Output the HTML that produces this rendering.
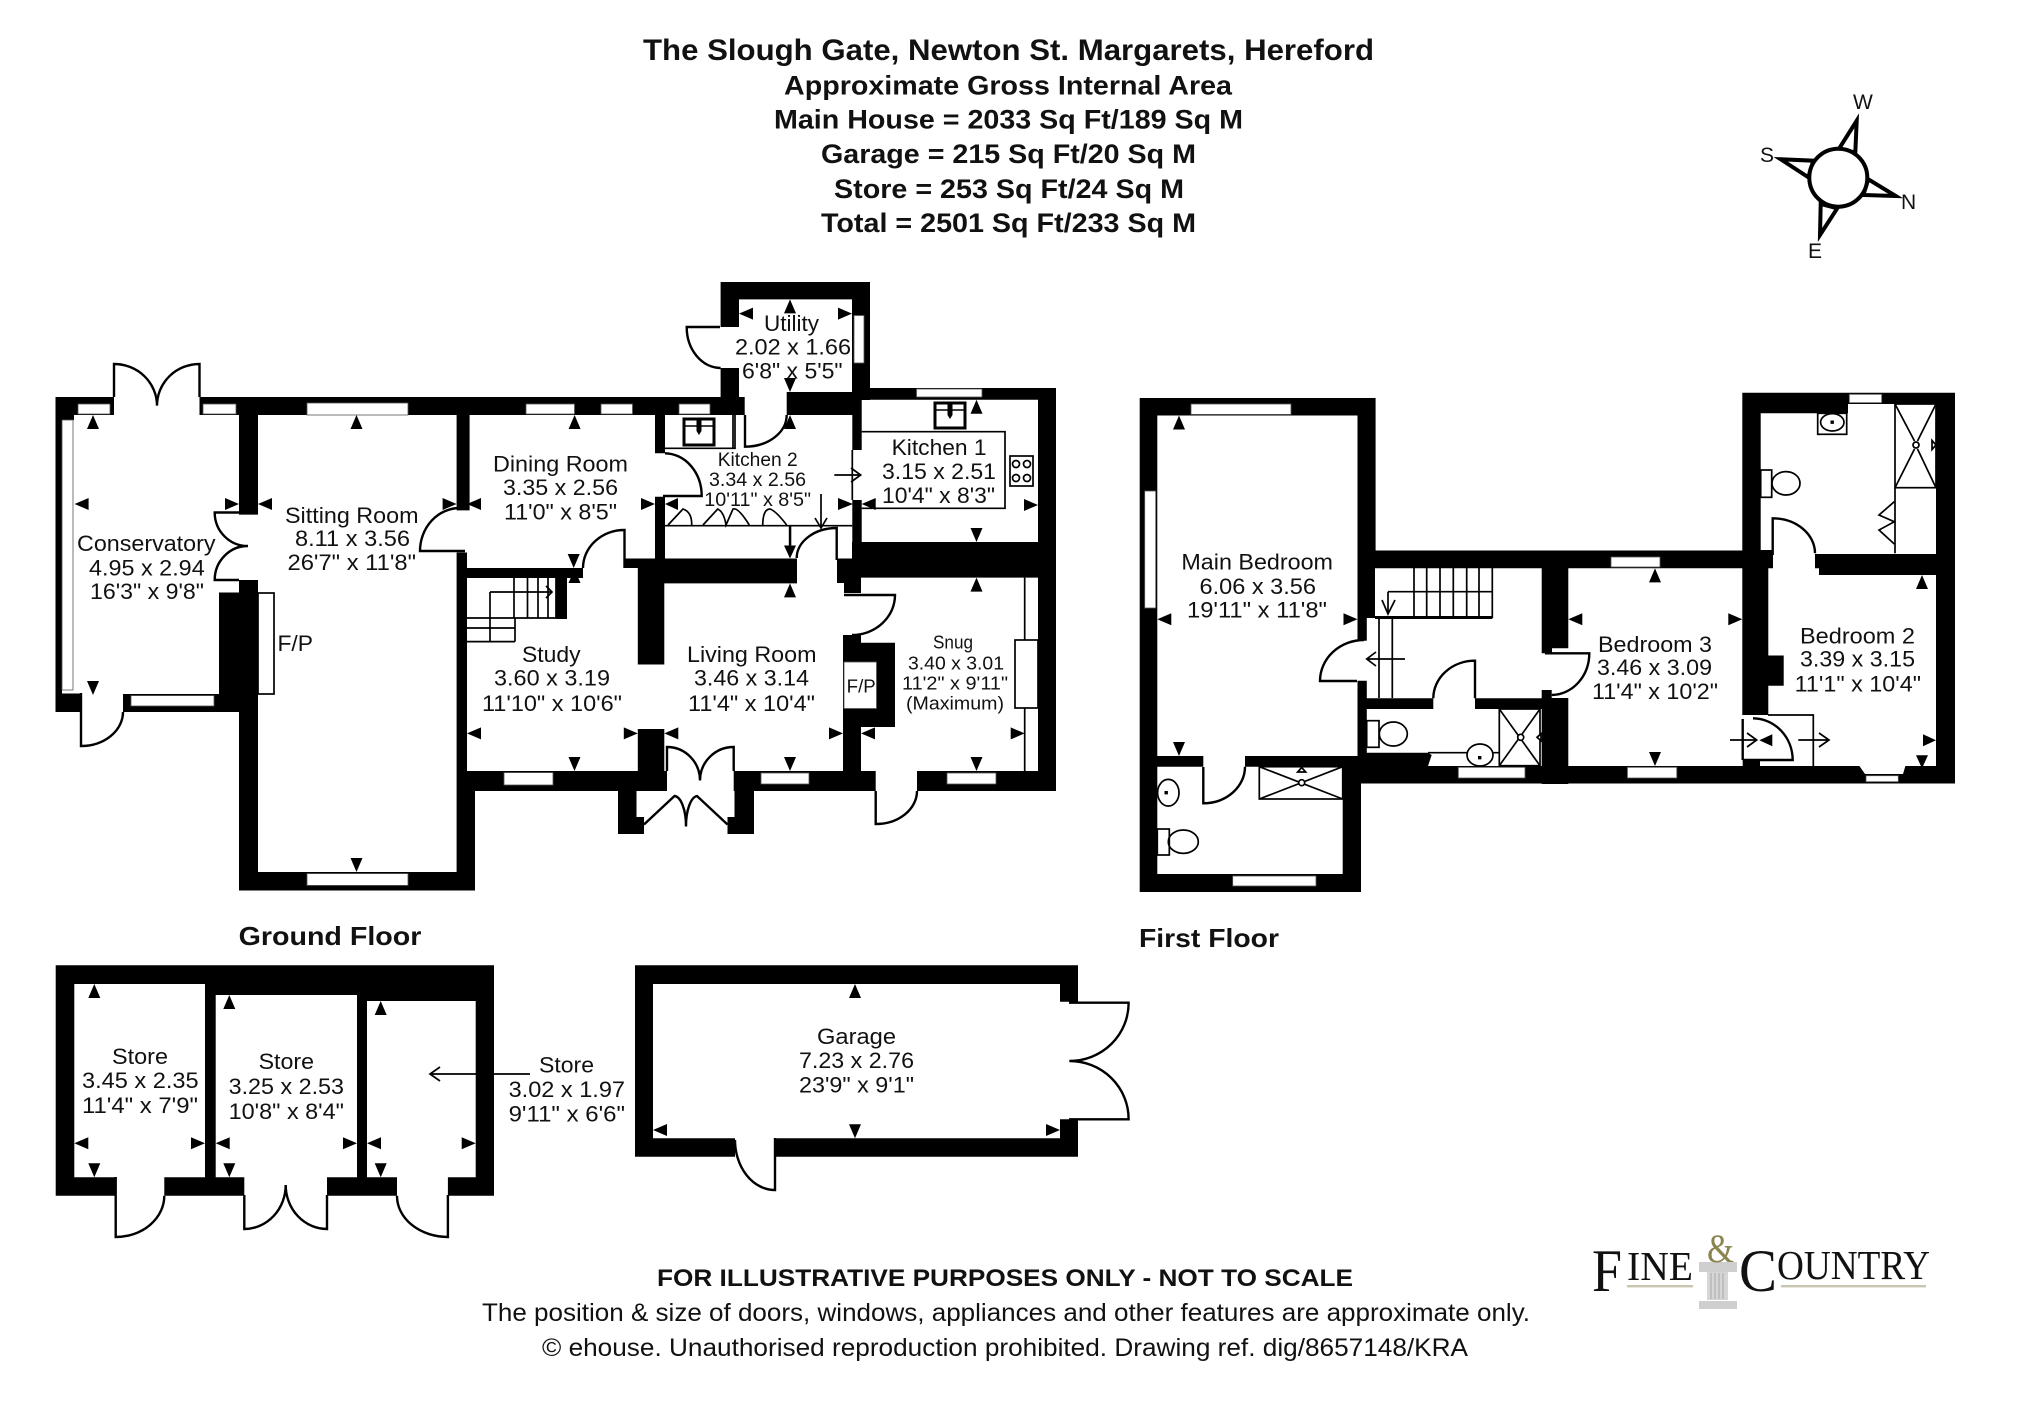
<!DOCTYPE html>
<html><head><meta charset="utf-8"><title>The Slough Gate floor plan</title>
<style>
html,body{margin:0;padding:0;background:#fff}
svg{display:block}
text{font-family:"Liberation Sans",sans-serif;fill:#111}
.b{font-weight:bold}
.t{font-size:22.5px}
.s{font-size:18px}
.k{font-size:19.5px}
.l{fill:none;stroke:#000;stroke-width:2.4}
.n{fill:none;stroke:#000;stroke-width:1.7}
.w{fill:#fff;stroke:#555;stroke-width:.8}
.f{font-family:"Liberation Serif",serif}
</style></head><body>
<svg width="2025" height="1422" viewBox="0 0 2025 1422" xmlns="http://www.w3.org/2000/svg">
<rect width="2025" height="1422" fill="#fff"/>

<!-- title -->
<text class="b" x="643" y="60" font-size="29.5" textLength="731" lengthAdjust="spacingAndGlyphs">The Slough Gate, Newton St. Margarets, Hereford</text>
<text class="b" x="784" y="94.3" font-size="27" textLength="448" lengthAdjust="spacingAndGlyphs">Approximate Gross Internal Area</text>
<text class="b" x="774" y="128.3" font-size="27" textLength="469" lengthAdjust="spacingAndGlyphs">Main House = 2033 Sq Ft/189 Sq M</text>
<text class="b" x="821" y="163" font-size="27" textLength="375" lengthAdjust="spacingAndGlyphs">Garage = 215 Sq Ft/20 Sq M</text>
<text class="b" x="834" y="198" font-size="27" textLength="350" lengthAdjust="spacingAndGlyphs">Store = 253 Sq Ft/24 Sq M</text>
<text class="b" x="821" y="232" font-size="27" textLength="375" lengthAdjust="spacingAndGlyphs">Total = 2501 Sq Ft/233 Sq M</text>

<!-- compass -->
<g fill="#fff" stroke="#000" stroke-width="4" stroke-linejoin="miter">
<path d="M1856.7 120.7L1839.3 148.3L1855.3 152.7z"/>
<path d="M1780.7 159.3L1813.3 160.7L1808.3 177.3z"/>
<path d="M1895.7 196L1868.3 179.3L1863.3 195z"/>
<path d="M1820 235L1820.7 204L1837.3 208.3z"/>
<circle cx="1838.3" cy="177.7" r="29"/>
</g>
<text x="1853" y="109" font-size="21">W</text>
<text x="1760" y="162" font-size="21">S</text>
<text x="1901" y="209" font-size="21">N</text>
<text x="1808" y="258" font-size="21">E</text>

<!-- walls -->
<path fill="#000" d="
M55.5 397H114V415H55.5z M199.5 397H744.7V415H199.5z M55.5 397H62V712H55.5z M55.5 397H74V420H55.5z
M55.5 693.5H81V712H55.5z M123 694H239V712H123z M219 592.5H258V712H219z
M239 397H258V514.6H239z M239 580H258V890.5H239z M239 872H475V890.5H239z M456.6 790H475V890.5H456.6z
M456.6 552.5H467V790H456.6z M456.6 397H469.6V510.4H456.6z M467 568H583V578H467z
M624.5 558.5H638V568H624.5z M637.8 558.5H797V583.4H637.8z M637.8 558.5H664.3V664.5H637.8z
M655 415H665V453.3H655z M655 496.7H665V558.5H655z M556.5 568H567V619H556.5z
M637.8 729H664.3V791H637.8z M456.6 771H667V791H456.6z
M618 791H636.5V834H618z M618 817H644V834H618z M734.5 791H754V834H734.5z M727.5 817H754V834H727.5z
M733.7 771H875.7V791H733.7z M917 771H1056V791H917z
M843 635H861V771H843z M843 642.7H895V727H843z M837 558.5H861V583H837z M844 583H861V593H844z
M852 542H1056V577.6H852z M852 388H1056V399.7H852z M1038 388H1056V791H1038z
M720.6 282H870V299.4H720.6z M720.6 282H739V327H720.6z M720.6 368H739V415H720.6z M852 282H870V400H852z
M786.7 392H861.7V415H786.7z M852.3 415H861.7V450H852.3z M852.3 500H861.7V558H852.3z

M1139.7 398H1375.6V415.5H1139.7z M1139.7 398H1157.3V892H1139.7z M1357.5 398H1375.6V568H1357.5z
M1357.5 550H1375V618H1357.5z M1357.5 618H1366.8V640.7H1357.5z M1357.5 680.7H1366.8V766H1357.5z
M1157 756H1203.3V766.7H1157z M1245 756H1361V766.7H1245z
M1342.7 766H1361V892H1342.7z M1139.7 874H1361V892H1139.7z
M1375 550.5H1760V568.3H1375z M1541.7 568H1568.3V648.3H1541.7z M1541.7 648H1552V653.3H1541.7z M1541.7 690H1551.7V784H1541.7z M1551.7 698H1568.3V784H1551.7z
M1366.8 698.3H1433.3V709H1366.8z M1475 698.3H1541.7V709H1475z
M1361 766H1955V783.5H1361z M1361 752.7H1428L1431.7 755L1428 766H1361z
M1742.3 392.7H1848V413.3H1742.3z M1848 392.7H1955V404H1848z M1742.3 392.7H1760.7V568H1742.3z M1742.3 550H1773V568.3H1742.3z
M1742.3 560H1768.3V715H1742.3z M1742.7 760H1760V770H1742.7z M1768 655.5H1783.7V685.8H1768z
M1936 392.7H1955V783.5H1936z M1815 554H1937V568.3H1815z M1819 554H1937V575H1819z

M55.7 965.3H494V984H55.7z M55.7 965.3H74.3V1195.7H55.7z M475.7 965.3H494V1195.7H475.7z
M205 965.3H215.7V1195.7H205z M357 965.3H367V1195.7H357z M205 984H494V995H205z M357 995H494V1001H357z
M55.7 1177.3H115.7V1195.7H55.7z M164.3 1177.3H244.3V1195.7H164.3z M327 1177.3H397V1195.7H327z M447.9 1177.3H494V1195.7H447.9z
M635 965.3H1078V984H635z M635 965.3H653V1156.7H635z M635 1138.3H735V1156.7H635z M775 1138.3H1078V1156.7H775z
M1060 984H1078V1001.7H1060z M1060 1119.3H1078V1156.7H1060z
"/>

<!-- bay notch -->
<path fill="#fff" d="M1858 764H1906L1903 774H1865z"/>

<!-- windows -->
<g class="w">
<rect x="62" y="420" width="11" height="270"/>
<rect x="78" y="404" width="32" height="10"/><rect x="203" y="404" width="33" height="10"/>
<rect x="131" y="695.6" width="83" height="10.4"/>
<rect x="307" y="403" width="101" height="12"/><rect x="307" y="873.6" width="101" height="11.8"/>
<rect x="526" y="404" width="48.5" height="10"/><rect x="601" y="404" width="31.5" height="10"/><rect x="679" y="404" width="31" height="10"/>
<rect x="504" y="772.6" width="49" height="12.4"/><rect x="761" y="773" width="48" height="11"/><rect x="947" y="773" width="49" height="11"/>
<rect x="916.5" y="389" width="65.5" height="8"/><rect x="854" y="315.5" width="10" height="47.5"/>
<rect x="1191" y="404" width="100" height="10.4"/><rect x="1144.7" y="491" width="11" height="117"/>
<rect x="1611" y="557" width="49" height="10"/><rect x="1458.3" y="767.3" width="66.7" height="10.7"/><rect x="1627.4" y="767.3" width="49.4" height="10.7"/>
<rect x="1866" y="775.7" width="32.3" height="6"/><rect x="1849.3" y="394.3" width="32.4" height="8.4"/>
<rect x="1232.7" y="876" width="83.3" height="10"/>
</g>

<!-- F/P -->
<rect x="258" y="593" width="16" height="101" class="n"/>
<rect x="844" y="662" width="32.5" height="46.5" fill="#fff" stroke="#555" stroke-width=".8"/>
<rect x="1015" y="640" width="23" height="68" class="n"/>
<path class="n" d="M1024.7 577.6V640M1024.7 708V771"/>

<!-- thin fittings ground -->
<g class="n">
<path d="M665 448.3H735V415M733 415V448"/>
<path d="M861.7 431.7H1005V508.3H861.7M852.3 450V500"/>
<path d="M665 525.7H852.3"/>
<path d="M668 525L683 509Q692 512 691.7 525M703 525L717.7 509Q724 512 726 525L733 509Q738 507 749.3 525M762.7 525Q763 509 770 509Q776 511 786.7 525"/>
<path d="M514 569V618M527.5 569V618M538 569V618M548 569V618M556 569V618M515 618H557M515 618V641.6M467 618H515M467 628H515M467 641.6H515M490 592V641.6M490 592H552"/>
<path d="M546 586L552 592L546 598M834.3 475H860.7M851 468L860.7 475L851 482M821 494V528M815 518L821 528L827 518"/>
<path d="M1414 568V617M1426.7 568V617M1440 568V617M1453.3 568V617M1466.7 568V617M1479 568V617M1492.3 568V618M1388 591.7H1492.3M1388 591.7V614M1382 600L1388 614L1395 600M1379 619V698M1392.3 619V698M1366.7 659H1405M1376 652L1366.7 659L1376 666"/>
<path d="M1768 715H1813.3V768.3M1730 740H1756.7M1747 733L1756.7 740L1747 747M1798.3 740H1829M1819 733L1829 740L1819 747"/>
<path d="M530 1074H430M440 1067L430 1074L440 1081"/>
</g>
<rect x="788.8" y="525" width="2.5" height="24" fill="#000"/>
<rect x="1375" y="616" width="117.3" height="3" fill="#000"/>

<!-- sinks, hobs -->
<g fill="#fff" stroke="#000" stroke-width="3">
<rect x="684" y="419" width="30" height="26"/><rect x="935" y="403" width="30" height="25"/>
</g>
<g fill="none" stroke="#000" stroke-width="1.5"><path d="M684 426H714M935 410H965"/></g>
<path fill="#000" d="M696.5 420h5v11l-2.5 4-2.5-4zM947.5 404h5v11l-2.5 4-2.5-4z"/>
<g class="n" stroke-width="1.5">
<rect x="1010" y="456" width="23" height="30"/><circle cx="1016" cy="464" r="3.5"/><circle cx="1027" cy="464" r="3.5"/><circle cx="1016" cy="478" r="3.5"/><circle cx="1027" cy="478" r="3.5"/>
</g>

<!-- first floor fittings -->
<g class="n">
<rect x="1895" y="404" width="41" height="83.7"/><path d="M1895 404L1914.5 441M1917.5 449L1936 487.7M1936 404L1917.5 441M1914.5 449L1895 487.7M1895 487.7V553.3"/>
<circle cx="1916" cy="445" r="3"/><path d="M1936 445l-4-4.5v9z"/>
<rect x="1817.7" y="413.3" width="29" height="21"/><ellipse cx="1832.3" cy="422.3" rx="11.7" ry="8.7"/>
<rect x="1760.7" y="470" width="11" height="27.3"/><ellipse cx="1786" cy="483.3" rx="14" ry="11.7"/>
<path d="M1894.3 501.7L1879 515L1894.3 521.7L1879 530L1894.3 544"/>
<rect x="1499.3" y="709" width="40.7" height="56.7"/><path d="M1499.3 709L1540 765.7M1540 709L1499.3 765.7"/>
<circle cx="1520.7" cy="737.3" r="3" fill="#fff"/><path d="M1537 737.3l4-3.5v7z" fill="#fff"/>
<rect x="1366.7" y="720.7" width="12.3" height="26.6"/><ellipse cx="1393.3" cy="734" rx="14" ry="12" fill="#fff"/>
<path d="M1428 752.7H1499"/><ellipse cx="1480" cy="755" rx="13" ry="11" fill="#fff"/>
<rect x="1259.3" y="766.7" width="83.4" height="32.3"/><path d="M1259.3 766.7L1342.7 799M1342.7 766.7L1259.3 799"/>
<circle cx="1301.7" cy="782.7" r="3" fill="#fff"/><path d="M1301.7 767.5l-4 4.5h8z"/>
<ellipse cx="1168.3" cy="792.7" rx="10.7" ry="13.3"/>
<rect x="1157.3" y="829" width="12" height="26"/><ellipse cx="1183.3" cy="841.7" rx="15" ry="11.7"/>
</g>
<path fill="#000" d="M1830.5 420.5h3.4v3.4h-3.4zM1478 756h3.4v3.4h-3.4zM1164.5 791h3.4v3.4h-3.4z"/>

<!-- doors -->
<g class="l">
<path d="M81 693V746A42 34 0 0 0 123 712"/>
<path d="M114 397V364A43 41.6 0 0 1 157 405.6M199.5 397V364A42.5 41.6 0 0 0 157 405.6"/>
<path d="M239 512.5H214.7A33 33.5 0 0 0 248 546M239 580H214.7A33 34 0 0 1 248 546"/>
<path d="M465 551H420A40 43 0 0 1 460 508"/>
<path d="M624.5 568V530A41.5 38 0 0 0 583 568"/>
<path d="M663 496H701.7A37 42.7 0 0 0 665 453.3"/>
<path d="M745 415V446.7A41.7 31.7 0 0 0 786.7 415"/>
<path d="M720 327H686.7A34 41 0 0 0 720.6 368"/>
<path d="M836.7 560V528A40 30 0 0 0 796.7 558"/>
<path d="M844 595H895A43 40 0 0 1 852 635"/>
<path d="M875.7 791V824A41 33 0 0 0 917 791"/>
<path d="M667 771V747A33 33.5 0 0 1 700 780.5M733.7 771V747A33.7 33.5 0 0 0 700 780.5"/>
<path d="M644 824.5L674.5 796A12 30 0 0 1 686 826.5M727.5 824.5L697 796A12 30 0 0 0 686 826.5"/>
<path d="M1357 681H1320A44 41 0 0 1 1364 640"/>
<path d="M1545 653.3H1589.3A38 41.7 0 0 1 1551.7 695"/>
<path d="M1475 698.3V660.7A41.7 37.6 0 0 0 1433.3 698.3"/>
<path d="M1203.3 767V803.3A41.7 36.6 0 0 0 1245 766.7"/>
<path d="M1772.7 555V518.3A42.3 35 0 0 1 1815 553.3"/>
<path d="M1742.7 760H1792.7A40 42 0 0 0 1753 718.3M1742.7 719V760" stroke-width="2.4"/>
<path d="M115.7 1177V1237A48.6 41.3 0 0 0 164.3 1195.7"/>
<path d="M244.3 1195V1229A41.4 44 0 0 0 285.7 1185M327 1195V1229A41.3 44 0 0 1 285.7 1185"/>
<path d="M447.9 1195V1237A51 41 0 0 1 397 1195.7"/>
<path d="M1069 1002.7H1128.6A59 58 0 0 1 1069.3 1061M1069 1119.3H1128.6A59 58 0 0 0 1069.3 1061"/>
<path d="M775 1138V1190A40 50 0 0 1 735 1140"/>
</g>

<!-- dimension arrowheads -->
<path fill="#000" d="
M93 415l-6 14h12zM74.6 504l14-6v12zM239 504l-14-6v12zM93 695l-6-14h12z
M356.5 415l-6 14h12zM258 504l14-6v12zM456.6 504l-14-6v12zM356.5 872l-6-14h12z
M467 504l14-6v12zM574.6 415l-6 14h12zM655 504l-14-6v12zM573.7 568l-6-14h12z
M574.5 569l-6 14h12zM467 733.4l14-6v12zM637.8 733.4l-14-6v12zM574.5 771l-6-14h12z
M665 504l13-6v12zM790 415l-6 14h12zM853 504l-15-6v12zM790 558.5l-6-13h12z
M790 583.4l-6 14h12zM664.3 733.4l14-6v12zM843 733.4l-14-6v12zM790 771l-6-14h12z
M739 313.6l14-6v12zM790 299.4l-6 14h12zM852 313.6l-14-6v12zM790 392l-6-14h12z
M976.5 399.7l-6 14h12zM861.7 504l14-6v12zM1038 505l-14-6v12zM976.5 542l-6-14h12z
M976.5 577.6l-6 14h12zM861 733.4l14-6v12zM1024.7 733.4l-14-6v12zM976.5 771l-6-14h12z
M1179 415.5l-6 14h12zM1157.3 619.3l14-6v12zM1357.5 619.3l-14-6v12zM1179 756l-6-14h12z
M1655 568.4l-6 14h12zM1568.3 619.3l14-6v12zM1742.3 619.3l-14-6v12zM1655 766l-6-14h12z
M1922 575l-6 14h12zM1759.3 740.3l13-6v12zM1936 740.3l-13-6v12zM1922 768.3l-6-13h12z
M94.3 984l-6 14h12zM74.3 1143.3l14-6v12zM205 1143.3l-14-6v12zM94.3 1177.3l-6-14h12z
M229.3 995l-6 14h12zM215.7 1143.3l14-6v12zM357 1143.3l-14-6v12zM229.3 1177.3l-6-14h12z
M380.7 1001l-6 14h12zM367 1143.3l14-6v12zM475.7 1143.3l-14-6v12zM380.7 1177.3l-6-14h12z
M855 984l-6 14h12zM653 1130l14-6v12zM1060 1130l-14-6v12zM855 1138.3l-6-14h12z
"/>

<!-- room labels -->
<g class="t">
<text class="t" x="77" y="551" textLength="138.5" lengthAdjust="spacingAndGlyphs">Conservatory</text>
<text class="t" x="89" y="575.7" textLength="115.7" lengthAdjust="spacingAndGlyphs">4.95 x 2.94</text>
<text class="t" x="90" y="599" textLength="114" lengthAdjust="spacingAndGlyphs">16'3" x 9'8"</text>
<text class="t" x="285" y="523" textLength="133.5" lengthAdjust="spacingAndGlyphs">Sitting Room</text>
<text class="t" x="295" y="546" textLength="115" lengthAdjust="spacingAndGlyphs">8.11 x 3.56</text>
<text class="t" x="287.5" y="570" textLength="128.5" lengthAdjust="spacingAndGlyphs">26'7" x 11'8"</text>
<text class="t" x="277.5" y="651" textLength="35.5" lengthAdjust="spacingAndGlyphs">F/P</text>
<text class="t" x="493" y="471.6" textLength="135" lengthAdjust="spacingAndGlyphs">Dining Room</text>
<text class="t" x="503" y="495" textLength="115" lengthAdjust="spacingAndGlyphs">3.35 x 2.56</text>
<text class="t" x="504" y="519.5" textLength="113" lengthAdjust="spacingAndGlyphs">11'0" x 8'5"</text>
<text class="t" x="522" y="662" textLength="58.6" lengthAdjust="spacingAndGlyphs">Study</text>
<text class="t" x="494" y="685.6" textLength="116" lengthAdjust="spacingAndGlyphs">3.60 x 3.19</text>
<text class="t" x="482" y="711" textLength="140" lengthAdjust="spacingAndGlyphs">11'10" x 10'6"</text>
<text class="t" x="687" y="662" textLength="129.5" lengthAdjust="spacingAndGlyphs">Living Room</text>
<text class="t" x="694" y="685.6" textLength="115" lengthAdjust="spacingAndGlyphs">3.46 x 3.14</text>
<text class="t" x="688" y="711" textLength="127" lengthAdjust="spacingAndGlyphs">11'4" x 10'4"</text>
<text class="s" x="846.7" y="692.5" textLength="29" lengthAdjust="spacingAndGlyphs">F/P</text>
<text class="k" x="717.7" y="466" textLength="80" lengthAdjust="spacingAndGlyphs">Kitchen 2</text>
<text class="k" x="709" y="486" textLength="97" lengthAdjust="spacingAndGlyphs">3.34 x 2.56</text>
<text class="k" x="704.3" y="506" textLength="106.7" lengthAdjust="spacingAndGlyphs">10'11" x 8'5"</text>
<text class="t" x="891.6" y="455" textLength="95" lengthAdjust="spacingAndGlyphs">Kitchen 1</text>
<text class="t" x="882" y="479" textLength="114" lengthAdjust="spacingAndGlyphs">3.15 x 2.51</text>
<text class="t" x="882" y="503" textLength="113" lengthAdjust="spacingAndGlyphs">10'4" x 8'3"</text>
<text class="t" x="764" y="331" textLength="55" lengthAdjust="spacingAndGlyphs">Utility</text>
<text class="t" x="735" y="354.5" textLength="116" lengthAdjust="spacingAndGlyphs">2.02 x 1.66</text>
<text class="t" x="742" y="378.6" textLength="100.6" lengthAdjust="spacingAndGlyphs">6'8" x 5'5"</text>
<text class="s" x="933" y="648.4" textLength="40" lengthAdjust="spacingAndGlyphs">Snug</text>
<text class="s" x="908" y="669.5" textLength="96" lengthAdjust="spacingAndGlyphs">3.40 x 3.01</text>
<text class="s" x="902" y="689.4" textLength="106" lengthAdjust="spacingAndGlyphs">11'2" x 9'11"</text>
<text class="s" x="906" y="709.7" textLength="98" lengthAdjust="spacingAndGlyphs">(Maximum)</text>

<text class="t" x="1181.4" y="569.4" textLength="151.6" lengthAdjust="spacingAndGlyphs">Main Bedroom</text>
<text class="t" x="1199.5" y="594" textLength="116.5" lengthAdjust="spacingAndGlyphs">6.06 x 3.56</text>
<text class="t" x="1187" y="617.6" textLength="140" lengthAdjust="spacingAndGlyphs">19'11" x 11'8"</text>
<text class="t" x="1598" y="652" textLength="114" lengthAdjust="spacingAndGlyphs">Bedroom 3</text>
<text class="t" x="1597" y="675" textLength="115" lengthAdjust="spacingAndGlyphs">3.46 x 3.09</text>
<text class="t" x="1592" y="699" textLength="126" lengthAdjust="spacingAndGlyphs">11'4" x 10'2"</text>
<text class="t" x="1800" y="643.4" textLength="115" lengthAdjust="spacingAndGlyphs">Bedroom 2</text>
<text class="t" x="1800" y="666.5" textLength="115" lengthAdjust="spacingAndGlyphs">3.39 x 3.15</text>
<text class="t" x="1794.7" y="691.6" textLength="126.3" lengthAdjust="spacingAndGlyphs">11'1" x 10'4"</text>

<text class="t" x="112" y="1064" textLength="56" lengthAdjust="spacingAndGlyphs">Store</text>
<text class="t" x="82" y="1088" textLength="116.6" lengthAdjust="spacingAndGlyphs">3.45 x 2.35</text>
<text class="t" x="82" y="1113" textLength="116" lengthAdjust="spacingAndGlyphs">11'4" x 7'9"</text>
<text class="t" x="258.6" y="1069" textLength="55.4" lengthAdjust="spacingAndGlyphs">Store</text>
<text class="t" x="228.6" y="1094" textLength="115.4" lengthAdjust="spacingAndGlyphs">3.25 x 2.53</text>
<text class="t" x="228.6" y="1119" textLength="115.4" lengthAdjust="spacingAndGlyphs">10'8" x 8'4"</text>
<text class="t" x="539" y="1072.7" textLength="55" lengthAdjust="spacingAndGlyphs">Store</text>
<text class="t" x="508.6" y="1097" textLength="116.4" lengthAdjust="spacingAndGlyphs">3.02 x 1.97</text>
<text class="t" x="508.6" y="1121.7" textLength="116.4" lengthAdjust="spacingAndGlyphs">9'11" x 6'6"</text>
<text class="t" x="817" y="1044" textLength="79" lengthAdjust="spacingAndGlyphs">Garage</text>
<text class="t" x="799" y="1068" textLength="115" lengthAdjust="spacingAndGlyphs">7.23 x 2.76</text>
<text class="t" x="799" y="1092.7" textLength="115" lengthAdjust="spacingAndGlyphs">23'9" x 9'1"</text>
</g>

<text class="b" x="238.6" y="945" font-size="26" textLength="182.8" lengthAdjust="spacingAndGlyphs">Ground Floor</text>
<text class="b" x="1139" y="947" font-size="26" textLength="140" lengthAdjust="spacingAndGlyphs">First Floor</text>

<!-- footer -->
<text class="b" x="657" y="1286" font-size="24" textLength="696" lengthAdjust="spacingAndGlyphs">FOR ILLUSTRATIVE PURPOSES ONLY - NOT TO SCALE</text>
<text x="482" y="1321" font-size="25" textLength="1048" lengthAdjust="spacingAndGlyphs">The position &amp; size of doors, windows, appliances and other features are approximate only.</text>
<text x="542" y="1356" font-size="25" textLength="926" lengthAdjust="spacingAndGlyphs">© ehouse. Unauthorised reproduction prohibited. Drawing ref. dig/8657148/KRA</text>

<!-- logo -->
<rect x="1699" y="1262" width="38" height="10" fill="#cfcfcf"/>
<path d="M1707 1272h21v28h-21z" fill="#d6d6d6"/>
<path d="M1711 1273v26M1715 1273v26M1719 1273v26M1723 1273v26" stroke="#a8a8a8" stroke-width="1"/>
<rect x="1699" y="1301" width="38" height="8" fill="#cfcfcf"/>
<rect x="1627" y="1285" width="66" height="2.4" fill="#c8c6b0"/>
<rect x="1781" y="1285" width="145" height="2.4" fill="#c8c6b0"/>
<text class="f" x="1592" y="1291" font-size="60" textLength="30" lengthAdjust="spacingAndGlyphs" style="fill:#111">F</text>
<text class="f" x="1627" y="1280" font-size="41" textLength="66" lengthAdjust="spacingAndGlyphs" style="fill:#111">INE</text>
<text class="f" x="1707" y="1262" font-size="40" textLength="27" lengthAdjust="spacingAndGlyphs" style="fill:#8a8450">&amp;</text>
<text class="f" x="1739" y="1291" font-size="60" textLength="38" lengthAdjust="spacingAndGlyphs" style="fill:#111">C</text>
<text class="f" x="1777" y="1279" font-size="41" textLength="153" lengthAdjust="spacingAndGlyphs" style="fill:#111">OUNTRY</text>
</svg>
</body></html>
